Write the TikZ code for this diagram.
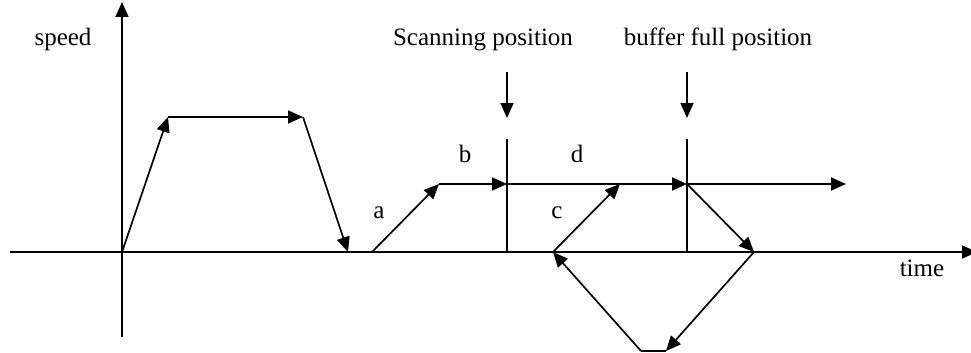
\documentclass[tikz,border=0pt]{standalone}
\usepackage{fontspec}
\setmainfont{Liberation Serif}
\usetikzlibrary{arrows.meta}
\begin{document}
\begin{tikzpicture}[x=1pt,y=-1pt,
  ln/.style={line width=1.7pt,line cap=butt},
  arr/.style={ln,-{Triangle[length=15pt,width=13pt]}},
  lbl/.style={inner sep=0pt,anchor=base,font=\fontsize{25}{30}\selectfont}]
\useasboundingbox (0,0) rectangle (971,353);
% coordinates
\coordinate (xl) at (10,252);
\coordinate (xr) at (977,252);
\coordinate (yb) at (122,337);
\coordinate (yt) at (122,2);
\coordinate (o) at (122,252);
\coordinate (p1) at (168,117);
\coordinate (p2) at (303,117);
\coordinate (p3) at (348,252);
\coordinate (a0) at (372,252);
\coordinate (a1) at (439,184);
\coordinate (s1) at (507,184);
\coordinate (st) at (507,139);
\coordinate (sb) at (507,252);
\coordinate (sa0) at (507,72);
\coordinate (sa1) at (507,118);
\coordinate (f1) at (687,184);
\coordinate (ft) at (687,139);
\coordinate (fb) at (687,252);
\coordinate (fa0) at (687,72);
\coordinate (fa1) at (687,118);
\coordinate (e1) at (846,184);
\coordinate (c0) at (553,252);
\coordinate (c1) at (620,184);
\coordinate (r1) at (754,252);
\coordinate (q1) at (666,351);
\coordinate (q0) at (641,351);
% axes
\draw[arr] (xl) -- (xr);
\draw[arr] (yb) -- (yt);
% first profile
\draw[arr] (o) -- (p1);
\draw[arr] (p1) -- (p2);
\draw[arr] (p2) -- (p3);
% second profile
\draw[arr] (a0) -- (a1);
\draw[arr] (a1) -- (s1);
\draw[arr] (s1) -- (f1);
\draw[arr] (f1) -- (e1);
\draw[arr] (c0) -- (c1);
\draw[arr] (f1) -- (r1);
\draw[arr] (r1) -- (q1);
\draw[ln] (q1) -- (q0);
\draw[arr] (q0) -- (c0);
% position markers
\draw[ln] (st) -- (sb);
\draw[ln] (ft) -- (fb);
\draw[arr] (sa0) -- (sa1);
\draw[arr] (fa0) -- (fa1);
% labels
\node[lbl] (speed) at (63,46) {speed};
\node[lbl] (scan) at (483,46) {Scanning position};
\node[lbl] (buf) at (718,46) {buffer full position};
\node[lbl] (la) at (379,218) {a};
\node[lbl] (lb) at (465,162) {b};
\node[lbl] (lc) at (557,218) {c};
\node[lbl] (ld) at (577,162) {d};
\node[lbl] (time) at (922,276) {time};
\end{tikzpicture}
\end{document}
